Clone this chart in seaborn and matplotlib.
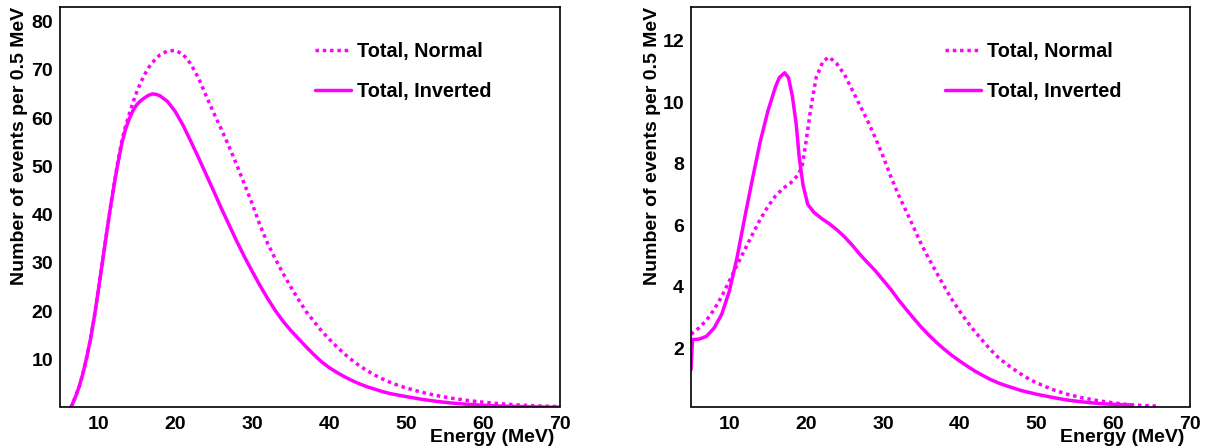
import numpy as np
import pandas as pd
import matplotlib
matplotlib.use("Agg")
import matplotlib.pyplot as plt
from matplotlib.ticker import MultipleLocator
import seaborn as sns

# ---------------- data ----------------
# Left panel
left_e_norm = [6.4, 7, 7.5, 8, 8.5, 9, 9.5, 10, 10.5, 11, 11.5, 12, 12.5, 13, 13.5, 14, 14.5, 15,
               15.5, 16, 16.5, 17, 18, 19, 20, 21, 22, 23, 24, 25,
               26, 27, 28, 29, 30, 31, 32, 33, 34, 35, 36, 37, 38, 39, 40, 41, 42, 43, 44, 45,
               46, 47, 48, 49, 50, 52, 54, 56, 58, 60, 62, 64, 66, 68, 70]
left_normal = [0.0, 2.2, 4.4, 7.2, 10.6, 14.5, 19.2, 24.5, 30.0, 35.5, 40.9, 46.0, 50.8, 55.0,
               58.2, 60.8, 63.3, 65.5, 67.4, 69.0, 70.4, 71.5, 73.1, 73.9, 74.0,
               73.2, 71.2, 68.3, 64.6, 61.0, 57.6, 54.0, 50.2, 46.2, 42.2, 37.8, 34.0, 30.8, 27.8,
               25.0, 22.4, 19.9, 17.9, 15.9, 14.2, 12.6, 11.1, 9.8, 8.6, 7.6, 6.7, 5.9, 5.2, 4.6,
               4.1, 3.2, 2.5, 1.95, 1.5, 1.15, 0.85, 0.62, 0.45, 0.32, 0.23]

left_e_inv = [6.4, 7, 7.5, 8, 8.5, 9, 9.5, 10, 10.5, 11, 11.5, 12, 12.5, 13, 13.5, 14, 14.5, 15,
              15.5, 16, 16.5, 17, 17.5, 18, 19, 20, 21, 22, 23, 24, 25,
              26, 27, 28, 29, 30, 31, 32, 33, 34, 35, 36, 37, 38, 39, 40, 41, 42, 43, 44, 45,
              46, 47, 48, 49, 50, 52, 54, 56, 58, 60, 62, 64, 66, 68, 70]
left_inverted = [0.0, 2.2, 4.4, 7.2, 10.6, 14.5, 19.2, 24.5, 30.0, 35.5, 40.9, 45.8, 50.4, 54.5,
                 57.6, 59.8, 61.6, 62.8, 63.6, 64.2, 64.7, 65.0, 64.9, 64.6, 63.4,
                 61.3, 58.5, 55.2, 51.8, 48.3, 44.8, 41.2, 37.8, 34.4, 31.2, 28.2, 25.3, 22.6,
                 20.1, 17.9, 16.0, 14.3, 12.6, 11.0, 9.5, 8.3, 7.3, 6.4, 5.6, 4.9, 4.3, 3.8, 3.3,
                 2.9, 2.6, 2.3, 1.75, 1.3, 0.95, 0.7, 0.5, 0.36, 0.26, 0.18, 0.13, 0.09]

# Right panel
right_e_norm = [5.0, 6, 7, 8, 9, 10, 11, 12, 13, 14, 15, 16, 17, 18, 19, 19.5, 20, 20.6, 21.3,
                22.2, 23, 24, 25, 26, 27, 28, 29, 30, 31, 32, 33, 34, 35, 36, 37, 38, 39, 40,
                41, 42, 43, 44, 45, 46, 47, 48, 49, 50, 52, 54, 56, 58, 60, 62, 64, 66]
right_normal = [2.45, 2.65, 2.9, 3.25, 3.68, 4.19, 4.7, 5.2, 5.7, 6.18, 6.6, 6.95, 7.2, 7.38,
                7.65, 7.95, 8.74, 9.8, 10.8, 11.34, 11.47, 11.25, 10.9, 10.4, 9.9, 9.4, 8.85,
                8.25, 7.6, 7.0, 6.47, 5.93, 5.38, 4.9, 4.45, 4.0, 3.58, 3.2, 2.85, 2.53, 2.24,
                1.95, 1.7, 1.5, 1.32, 1.15, 1.0, 0.87, 0.66, 0.5, 0.38, 0.29, 0.22, 0.16, 0.13,
                0.11]

right_e_inv = [5.0, 5.2, 6, 7, 8, 9, 10, 11, 12, 13, 14, 15, 16, 16.5, 17.2, 17.7, 18.2, 18.7,
               19.1, 19.6, 20.2, 21, 22, 23, 24, 25, 26, 27, 28, 29, 30, 31, 32, 33, 34, 35, 36,
               37, 38, 39, 40, 41, 42, 43, 44, 45, 46, 47, 48, 49, 50, 52, 54, 56, 58, 60, 62.4]
right_inverted = [1.3, 2.28, 2.29, 2.38, 2.65, 3.1, 3.86, 4.95, 6.25, 7.5, 8.7, 9.7, 10.5, 10.8,
                  10.96, 10.8, 10.2, 9.3, 8.2, 7.3, 6.68, 6.42, 6.22, 6.05, 5.85, 5.62, 5.35,
                  5.05, 4.78, 4.52, 4.22, 3.92, 3.58, 3.27, 2.97, 2.68, 2.42, 2.18, 1.96, 1.76,
                  1.58, 1.41, 1.25, 1.11, 0.98, 0.87, 0.78, 0.70, 0.62, 0.56, 0.50, 0.40, 0.31,
                  0.25, 0.20, 0.17, 0.15]

label_normal = "Total, Normal"
label_inverted = "Total, Inverted"
xlabel = "Energy (MeV)"
ylabel = "Number of events per 0.5 MeV"

# ---------------- style ----------------
sns.set_theme(style="white")
plt.rcParams["font.family"] = ["Liberation Sans", "DejaVu Sans"]
plt.rcParams["font.weight"] = "bold"
plt.rcParams["text.color"] = "black"
plt.rcParams["axes.labelcolor"] = "black"
plt.rcParams["xtick.color"] = "black"
plt.rcParams["ytick.color"] = "black"

MAGENTA = "#ff00ff"
W, H = 1207, 447
fig = plt.figure(figsize=(W / 100, H / 100), dpi=100)

def px_axes(x0, y0, x1, y1):
    return fig.add_axes([x0 / W, 1 - y1 / H, (x1 - x0) / W, (y1 - y0) / H])

ax1 = px_axes(60, 7, 560, 406.5)
ax2 = px_axes(691, 7, 1190, 406.5)

TICK_FS = 14
LEG_FS = 14.3
panels = [
    (ax1, left_e_norm, left_normal, left_e_inv, left_inverted, (5, 70), (0.25, 83.0), 10, 2),
    (ax2, right_e_norm, right_normal, right_e_inv, right_inverted, (5, 70), (0.1, 13.1), 2, 0.5),
]

for ax, en, vn, ei, vi, xl, yl, ymaj, ymin in panels:
    dn = pd.DataFrame({"E": en, "N": vn})
    di = pd.DataFrame({"E": ei, "N": vi})
    sns.lineplot(data=dn, x="E", y="N", ax=ax, color=MAGENTA, lw=2.5,
                 linestyle=(0, (1, 1.1)), label=label_normal, estimator=None, sort=False)
    sns.lineplot(data=di, x="E", y="N", ax=ax, color=MAGENTA, lw=2.5,
                 linestyle="-", label=label_inverted, estimator=None, sort=False)
    ax.set_xlim(*xl)
    ax.set_ylim(*yl)
    ax.xaxis.set_major_locator(MultipleLocator(10))
    ax.xaxis.set_minor_locator(MultipleLocator(2))
    ax.yaxis.set_major_locator(MultipleLocator(ymaj))
    ax.yaxis.set_minor_locator(MultipleLocator(ymin))
    ax.tick_params(axis="both", which="both", direction="in", top=False, right=False,
                   color="#222222", width=1.0)
    ax.tick_params(axis="both", which="major", length=10, labelsize=TICK_FS, labelcolor="black")
    ax.tick_params(axis="both", which="minor", length=5.5)
    ax.tick_params(axis="x", which="major", pad=6.5)
    ax.tick_params(axis="y", which="major", pad=5)
    for lab in ax.get_xticklabels() + ax.get_yticklabels():
        lab.set_fontweight("bold")
    for s in ax.spines.values():
        s.set_color("black")
        s.set_linewidth(1.2)
    ax.set_xlabel(xlabel, loc="right", fontsize=14, fontweight="bold", color="black")
    ax.xaxis.set_label_coords(0.988, -0.056)
    ax.set_ylabel(ylabel, loc="top", fontsize=14, fontweight="bold", color="black")
    ax.grid(False)
    leg = ax.legend(loc="upper left", bbox_to_anchor=(0.474, 0.957), frameon=False,
                    handlelength=1.8, handletextpad=0.3, labelspacing=1.05,
                    prop={"weight": "bold", "size": LEG_FS})
    for t in leg.get_texts():
        t.set_color("black")

ax1.yaxis.set_label_coords(-0.063, 1.0)
ax2.yaxis.set_label_coords(-0.061, 1.0)

fig.savefig("out.png", dpi=100)
